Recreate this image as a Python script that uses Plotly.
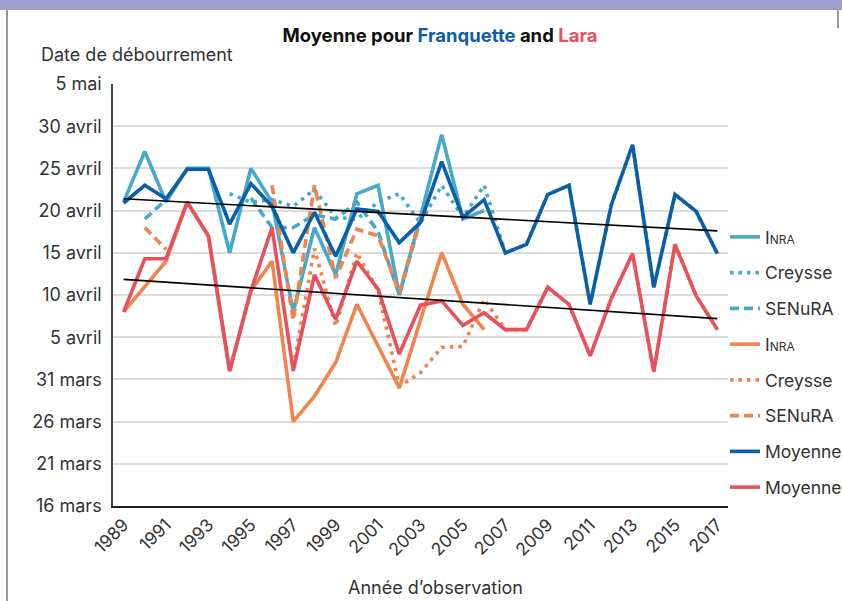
import plotly.graph_objects as go

# ---------------- data (values = day of April; 0 = 31 mars, -15 = 16 mars, 35 = 5 mai)
years = list(range(1989, 2018))

franq_inra = [21, 27, 21, 25, 25, 15, 25, 21, 8, 18, 12.4, 22, 23, 10, 19.3, 29, 19, 20,
              None, None, None, None, None, None, None, None, None, None, None]
franq_creysse = [None, None, None, None, None, 22, 21, 21.3, 20.5, 22.5, 19.2, 19, 21, 22, 18.5, 23, 19.2, 23,
                 15, 16, 21.9, 23, 8.9, 20.7, 27.8, 10.9, 21.9, 19.9, 14.9]
franq_senura = [None, 19, 21.3, None, None, None, 21.5, 18, 18, 19.5, 19, 21, 17.5, 10, 19,
                None, None, None, None, None, None, None, None, None, None, None, None, None, None]
lara_inra = [8, 11, 14, 21, 17, 1, 10.5, 14, -5, -2, 2, 8.9, 3.9, -1, 7, 15, 8.9, 5.9,
             None, None, None, None, None, None, None, None, None, None, None]
lara_creysse = [None, None, None, None, None, None, None, None, 1.5, 15.5, 6.3, 15, 10.5, -0.8, 0.8, 3.8, 3.9, 9.5,
                5.9, 5.9, 10.9, 8.9, 2.8, 9.6, 14.9, 0.9, 16, 9.9, 5.9]
lara_senura = [None, 18, 15.4, None, None, None, None, 23, 7, 23, 12, 17.8, 17, 10.3, 19,
               None, None, None, None, None, None, None, None, None, None, None, None, None, None]
franq_moy = [20.9, 23, 21.4, 24.9, 24.9, 18.4, 23.2, 20.5, 15, 19.8, 14.6, 20.2, 19.9, 16.2, 18.6, 25.8, 19.2, 21.3,
             15, 16, 21.9, 23, 8.9, 20.7, 27.8, 10.9, 21.9, 19.9, 14.9]
lara_moy = [8, 14.3, 14.3, 21, 17, 1, 10.5, 18, 1, 12.4, 7.1, 14, 10.7, 3, 8.8, 9.3, 6.4, 7.9,
            5.9, 5.9, 10.9, 8.9, 2.8, 9.6, 14.9, 0.9, 16, 9.9, 5.9]

trend_years = [1989, 2017]
franq_trend = [21.4, 17.6]
lara_trend = [11.85, 7.2]

y_tick_vals = [-15, -10, -5, 0, 5, 10, 15, 20, 25, 30, 35]
y_tick_text = ["16 mars", "21 mars", "26 mars", "31 mars", "5 avril", "10 avril",
               "15 avril", "20 avril", "25 avril", "30 avril", "5 mai"]
x_tick_vals = list(range(1989, 2018, 2))

# ---------------- styles
C_FDARK = "#0c5fa6"
C_FLIGHT = "#45aac9"
C_LRED = "#e8505b"
C_LORANGE = "#f0844c"
TXT = "#333333"
FONT = "Inter"
LW = 3.6
DOT = "3.5px,5px"
DASH = "9px,5px"
INRA = "I<span style='font-size:12px'>NRA</span>"

fig = go.Figure()

series = [
    (franq_inra, INRA, C_FLIGHT, "solid"),
    (franq_creysse, "Creysse", C_FLIGHT, DOT),
    (franq_senura, "SENuRA", C_FLIGHT, DASH),
    (lara_inra, INRA, C_LORANGE, "solid"),
    (lara_creysse, "Creysse", C_LORANGE, DOT),
    (lara_senura, "SENuRA", C_LORANGE, DASH),
    (franq_moy, "Moyenne", C_FDARK, "solid"),
    (lara_moy, "Moyenne", C_LRED, "solid"),
]
for i, (vals, name, col, dash) in enumerate(series):
    fig.add_trace(go.Scatter(
        x=years, y=vals, name=name, mode="lines", legendgroup=f"g{i}",
        line=dict(color=col, width=LW, dash=dash), connectgaps=False,
        hoverinfo="skip"))

for vals in (franq_trend, lara_trend):
    fig.add_trace(go.Scatter(x=trend_years, y=vals, mode="lines", showlegend=False,
                             line=dict(color="black", width=1.6), hoverinfo="skip"))

W, H = 842, 601
L, R, T, B = 113, 728, 84, 506
pw, ph = R - L, B - T


def px(x):
    return (x - L) / pw


def py(y):
    return (B - y) / ph


fig.update_layout(
    width=W, height=H,
    margin=dict(l=L, r=W - R, t=T, b=H - B, pad=0, autoexpand=False),
    paper_bgcolor="white", plot_bgcolor="white",
    font=dict(family=FONT, size=17, color=TXT),
    title=dict(
        text="<b>Moyenne pour <span style='color:#0c5fa6'>Franquette</span> and "
             "<span style='color:#e8505b'>Lara</span></b>",
        x=440 / W, xanchor="center", y=1 - 36 / H, yanchor="middle",
        font=dict(family=FONT, size=18.5, color="#111111")),
    xaxis=dict(range=[1988.5, 2017.5], tickvals=x_tick_vals, tickangle=-45,
               showgrid=False, zeroline=False, showline=True, linecolor="#222222",
               linewidth=1.5, ticks="", tickfont=dict(size=17.5, color=TXT)),
    yaxis=dict(range=[-15, 35], tickvals=y_tick_vals, ticktext=y_tick_text,
               showgrid=True, gridcolor="#dcdcdc", gridwidth=1.5, zeroline=False,
               showline=True, linecolor="#444444", linewidth=1.5, ticks="",
               ticklabelstandoff=6, tickfont=dict(size=18, color=TXT)),
    legend=dict(x=px(725), xanchor="left", y=py(219), yanchor="top",
                bgcolor="rgba(0,0,0,0)", font=dict(size=17.5, color=TXT),
                traceorder="grouped", tracegroupgap=10, itemwidth=30),
    showlegend=True,
    annotations=[
        dict(text="Date de débourrement", xref="paper", yref="paper",
             x=px(39), y=py(55), xanchor="left", yanchor="middle", showarrow=False,
             font=dict(size=18, color=TXT)),
        dict(text="Année d’observation", xref="paper", yref="paper",
             x=px(435), y=py(587), xanchor="center", yanchor="middle", showarrow=False,
             font=dict(size=18, color=TXT)),
    ],
    shapes=[
        dict(type="rect", xref="paper", yref="paper", x0=px(-5), x1=px(W + 5),
             y0=py(10), y1=py(-5), fillcolor="#9d9dcf", line=dict(width=0), layer="above"),
        dict(type="line", xref="paper", yref="paper", x0=px(7), x1=px(7),
             y0=py(10), y1=py(H + 5), line=dict(color="#777777", width=1.5)),
        dict(type="line", xref="paper", yref="paper", x0=px(838), x1=px(838),
             y0=py(10), y1=py(28), line=dict(color="#777777", width=1.5)),
    ],
)

fig.write_html("out.html", config={"displayModeBar": False},
               post_script="document.body.style.margin='0';")
